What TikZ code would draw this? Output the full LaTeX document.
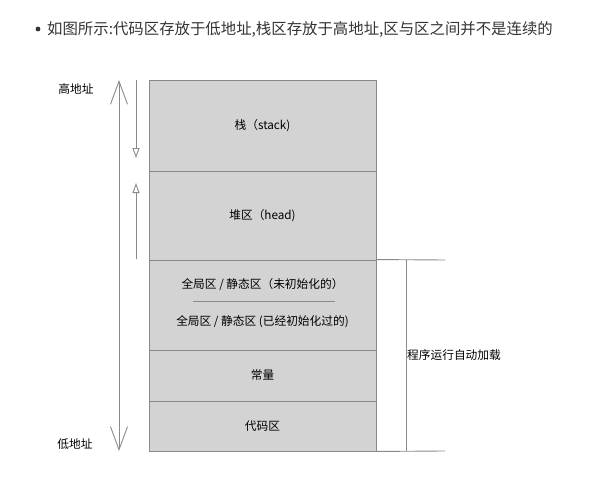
\documentclass[tikz,border=0pt]{standalone}
\usepackage{fontspec}
\setmainfont{Noto Sans CJK SC}
\usetikzlibrary{positioning, arrows.meta}
\definecolor{boxfill}{HTML}{D3D3D3}
\definecolor{edgegray}{HTML}{8A8A8A}
\definecolor{inkgray}{HTML}{333333}

\begin{document}
\begin{tikzpicture}[x=1pt, y=-1pt,
  region/.style  = {draw=edgegray, fill=boxfill, line width=0.9pt, minimum width=227pt,
                    inner sep=0pt, font=\fontsize{11.7}{13}\selectfont, text=black},
  lbl/.style     = {font=\fontsize{11.7}{13}\selectfont, text=black, inner sep=0pt},
  rule/.style    = {draw=edgegray, line width=0.9pt},
  addr/.style    = {rule, {Straight Barb[length=23pt, width=17pt]}-{Straight Barb[length=23pt, width=17pt]}},
  growarr/.style = {rule, -{Triangle[open, length=10pt, width=7pt]}},
]
\useasboundingbox (0,0) rectangle (598,490);

% ---- heading ----------------------------------------------------------------
\fill[inkgray] (38,29) circle (2.4pt);
\node[anchor=west, inner sep=0pt, text=inkgray, font=\fontsize{15.4}{18}\selectfont] (title) at (47,29)
  {如图所示:代码区存放于低地址,栈区存放于高地址,区与区之间并不是连续的};

% ---- memory regions ---------------------------------------------------------
\node[region, minimum height=91pt] (stack) at (262.5,125.5) {栈（stack)};
\node[region, minimum height=89pt] (heap)  at (262.5,215.5) {堆区（head)};
\node[region, minimum height=90pt] (glob)  at (262.5,305)   {};
\node[region, minimum height=51pt] (const) at (262.5,375.5) {常量};
\node[region, minimum height=50pt] (code)  at (262.5,426)   {代码区};

\node[lbl] (bss)  at (262.5,285) {全局区 / 静态区（未初始化的）};
\node[lbl] (data) at (262.5,322) {全局区 / 静态区 (已经初始化过的)};
\draw[rule, line width=0.6pt] (193,301) -- (335,301);

% ---- address axis -----------------------------------------------------------
\node[lbl] (hi) at (76,89)  {高地址};
\node[lbl] (lo) at (75,444) {低地址};
\coordinate (axtop) at (119,80);
\coordinate (axbot) at (119,451);
\draw[addr] (axbot) -- (axtop);

% ---- growth directions ------------------------------------------------------
\coordinate (sgrow0) at (136,80);
\coordinate (sgrow1) at (136,158);
\coordinate (hgrow0) at (136,259);
\coordinate (hgrow1) at (136,183);
\draw[growarr] (sgrow0) -- (sgrow1);
\draw[growarr] (hgrow0) -- (hgrow1);

% ---- loaded at startup ------------------------------------------------------
\coordinate (ldtop) at (445,260);
\coordinate (ldbot) at (445,451);
\draw[rule] (glob.north east) -- (ldtop);
\draw[rule] (code.south east) -- (ldbot);
\draw[rule] (406,260) -- (406,451);
\node[lbl, anchor=west] (load) at (407,355) {程序运行自动加载};

\end{tikzpicture}
\end{document}
